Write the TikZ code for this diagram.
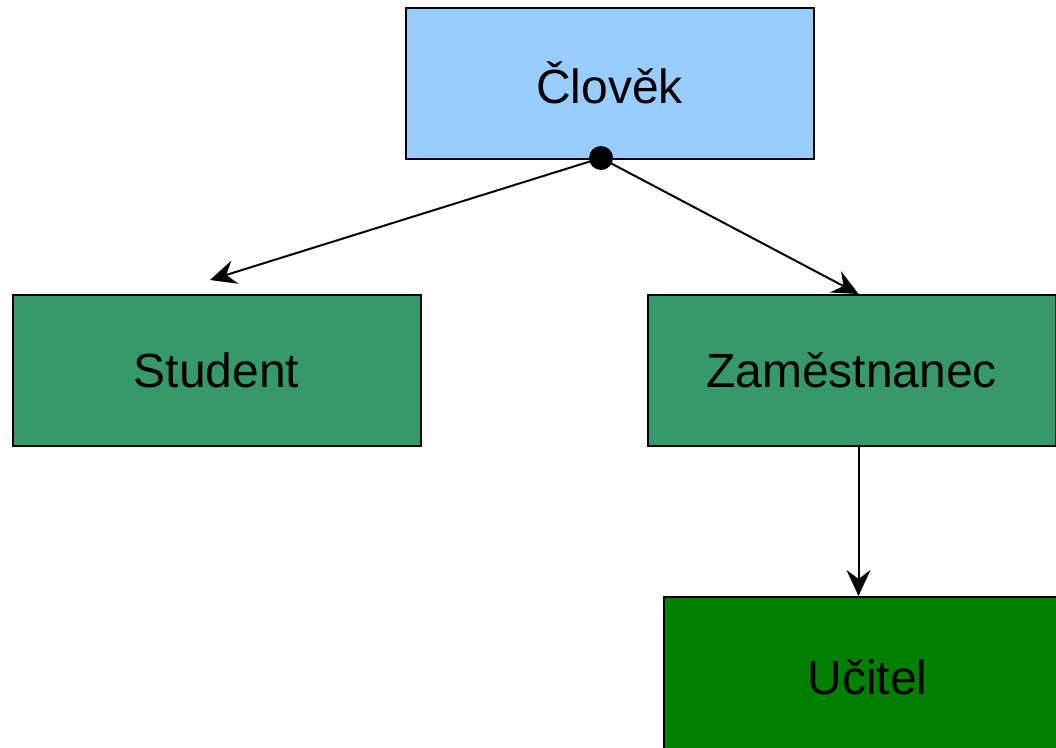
\documentclass[tikz,border=0pt]{standalone}
\usepackage{fontspec}
\setmainfont{Liberation Sans}
\usetikzlibrary{arrows.meta}

\definecolor{baseblue}{HTML}{99CCFF}
\definecolor{subgreen}{HTML}{35996A}
\definecolor{leafgreen}{HTML}{008000}

\def\boxwidth{408pt}
\def\boxheight{151pt}

\begin{document}
\begin{tikzpicture}[x=1pt,y=-1pt,
    entity/.style={draw=black, line width=2pt, minimum width=\boxwidth,
      minimum height=\boxheight, inner sep=0pt,
      font=\fontsize{48}{58}\selectfont},
    inherit/.style={line width=2pt,
      -{Stealth[length=26pt,width=24pt,inset=9pt]}}]
    \useasboundingbox (0,0) rectangle (1056,747);
    \clip (0,0) rectangle (1056,747);

    % classes
    \node[entity, fill=baseblue] (clovek) at (609.5,83) {Člověk};
    \node[entity, fill=subgreen] (student) at (216.5,370.5) {Student};
    \node[entity, fill=subgreen] (zamestnanec) at (851.5,370.5) {Zaměstnanec};
    \node[entity, fill=leafgreen, minimum height=161pt] (ucitel) at (867.5,677.5) {Učitel};

    % inheritance
    \coordinate (dot) at (601,158);
    \coordinate (studenttip) at (210,280);
    \draw[inherit] (dot) -- (studenttip);
    \draw[inherit] (dot) -- ([xshift=7]zamestnanec.north);
    \draw[inherit] ([xshift=7]zamestnanec.south) -- ([xshift=7]zamestnanec.south |- ucitel.north);
    \fill (dot) circle (12);
\end{tikzpicture}
\end{document}
